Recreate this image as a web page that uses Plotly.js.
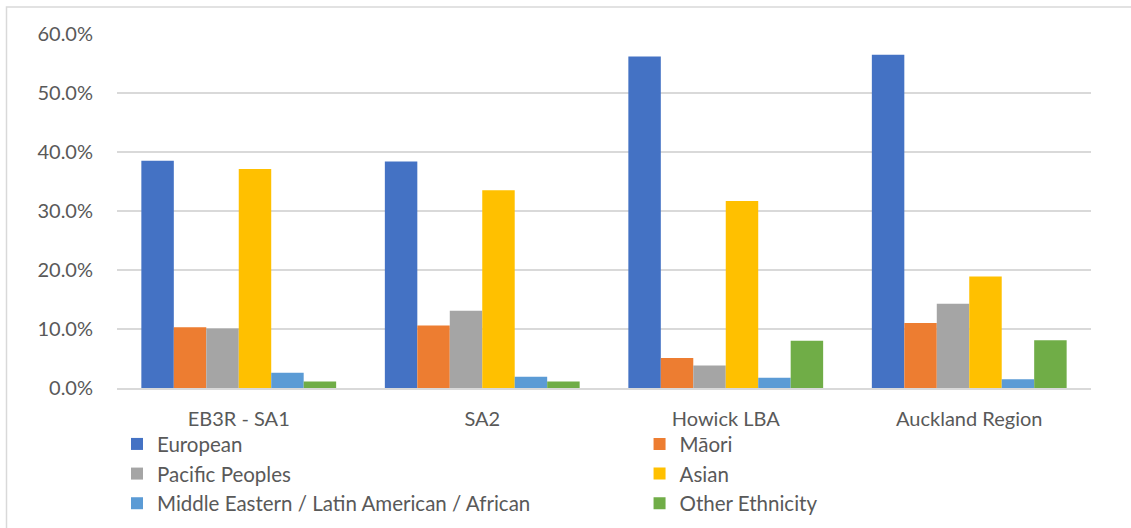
<!DOCTYPE html>
<html>
<head>
<meta charset="utf-8">
<script src="https://cdn.plot.ly/plotly-3.0.1.min.js"></script>
<style>html,body{margin:0;padding:0;background:#fff;}#chart{width:1131px;height:528px;}</style>
</head>
<body>
<div id="chart"></div>
<script>
const categories = ["EB3R - SA1", "SA2", "Howick LBA", "Auckland Region"];
const seriesNames = ["European", "Māori", "Pacific Peoples", "Asian", "Middle Eastern / Latin American / African", "Other Ethnicity"];
const european = [0.385, 0.384, 0.562, 0.565];
const maori = [0.103, 0.106, 0.051, 0.110];
const pacific = [0.101, 0.131, 0.038, 0.143];
const asian = [0.371, 0.335, 0.317, 0.189];
const melaa = [0.026, 0.019, 0.0175, 0.015];
const other = [0.011, 0.011, 0.080, 0.081];
const colors = ["#4472C4", "#ED7D31", "#A5A5A5", "#FFC000", "#5B9BD5", "#70AD47"];
const seriesValues = [european, maori, pacific, asian, melaa, other];
// legend column for each series (two-column legend like the original)
const legendIds = ["legend", "legend2", "legend", "legend2", "legend", "legend2"];

const FONT = "Lato, 'Open Sans', sans-serif";
const traces = seriesValues.map((vals, i) => ({
  type: "bar",
  name: seriesNames[i],
  x: categories,
  y: vals,
  legend: legendIds[i],
  legendgroup: "g" + i,
  marker: {color: colors[i], line: {width: 0}},
  hoverinfo: "x+y+name"
}));

const legendCommon = {
  orientation: "v", xanchor: "left", yanchor: "top",
  font: {family: FONT, size: 20.5, color: "#595959"},
  traceorder: "normal", tracegroupgap: 0.5, itemwidth: 30,
  bgcolor: "rgba(0,0,0,0)", borderwidth: 0
};

const layout = {
  width: 1131, height: 528,
  margin: {l: 117, r: 40, t: 34, b: 140, autoexpand: false},
  paper_bgcolor: "#fff", plot_bgcolor: "#fff",
  barmode: "group", bargap: 0.2, bargroupgap: 0,
  font: {family: FONT, color: "#595959", size: 20},
  showlegend: true,
  legend: Object.assign({}, legendCommon, {x: 0.0, y: -0.102}),
  legend2: Object.assign({}, legendCommon, {x: 0.5365, y: -0.102}),
  xaxis: {
    type: "category", showgrid: false, zeroline: false,
    showline: true, linecolor: "#d9d9d9", linewidth: 1.5,
    ticks: "", ticklabelstandoff: 12,
    tickfont: {family: FONT, size: 20, color: "#595959"}
  },
  yaxis: {
    range: [0, 0.6], dtick: 0.1, tick0: 0, tickformat: ".1%",
    showgrid: true, gridcolor: "#d9d9d9", gridwidth: 1.5,
    zeroline: false, showline: false, ticks: "", ticklabelstandoff: 23,
    tickfont: {family: FONT, size: 20, color: "#595959"}
  },
  shapes: [{
    type: "rect", xref: "paper", yref: "paper",
    x0: (6.5 - 117) / 974, x1: (1140 - 117) / 974,
    y0: (388 - 540) / 354, y1: (388 - 7) / 354,
    line: {color: "#d9d9d9", width: 1.5}, fillcolor: "rgba(0,0,0,0)", layer: "below"
  }]
};

Plotly.newPlot("chart", traces, layout, {displayModeBar: false, staticPlot: true});
</script>
</body>
</html>
